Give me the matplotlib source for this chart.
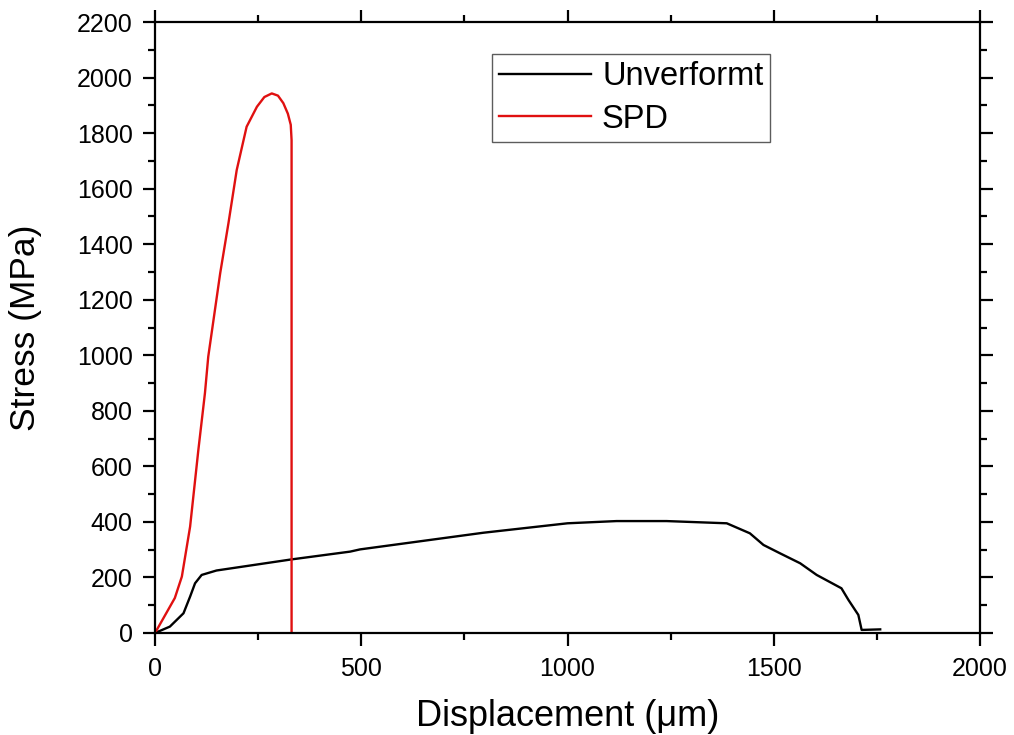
import numpy as np
import matplotlib.pyplot as plt
from matplotlib.ticker import MultipleLocator

plt.rcParams['font.family'] = ['Liberation Sans', 'DejaVu Sans']

# Unverformt (undeformed) curve
disp_unv = [0, 36, 69, 85, 97, 113, 149, 331, 473, 497, 796, 1000, 1119, 1240,
            1386, 1442, 1475, 1515, 1564, 1604, 1664, 1681, 1705, 1713, 1758]
stress_unv = [0, 23, 71, 131, 179, 209, 225, 265, 293, 301, 361, 395, 403, 403,
              395, 359, 317, 287, 251, 209, 161, 119, 65, 11, 13]

# SPD curve
disp_spd = [0, 48, 65, 85, 105, 121, 129, 158, 178, 198, 222, 247, 265, 283,
            298, 311, 322, 329, 331, 331]
stress_spd = [0, 126, 203, 383, 659, 864, 995, 1296, 1476, 1667, 1823, 1895,
              1930, 1943, 1935, 1908, 1870, 1830, 1775, 0]

fig = plt.figure(figsize=(10.14, 7.35), dpi=100)
ax = fig.add_axes([0.1529, 0.1388, 0.8136, 0.8312])

ax.plot(disp_unv, stress_unv, color='black', lw=1.7, label='Unverformt')
ax.plot(disp_spd, stress_spd, color='#e01010', lw=1.7, label='SPD')

ax.set_xlim(0, 2000)
ax.set_ylim(0, 2200)
ax.xaxis.set_major_locator(MultipleLocator(500))
ax.xaxis.set_minor_locator(MultipleLocator(250))
ax.yaxis.set_major_locator(MultipleLocator(200))
ax.yaxis.set_minor_locator(MultipleLocator(100))

for s in ax.spines.values():
    s.set_linewidth(1.6)
ax.tick_params(which='both', direction='out', top=True, right=True, width=1.6,
               labelsize=18)
ax.tick_params(which='major', length=9)
ax.tick_params(which='minor', length=5)
ax.tick_params(axis='x', which='major', pad=8)
ax.tick_params(axis='y', which='major', pad=7)

ax.set_xlabel('Displacement (\u03bcm)', fontsize=26, labelpad=13)
ax.set_ylabel('Stress (MPa)', fontsize=25.5, labelpad=25)

leg = ax.legend(loc='upper left', bbox_to_anchor=(0.4085, 0.9476), fontsize=23.5,
                frameon=True, fancybox=False, handlelength=2.8, borderpad=0.22,
                labelspacing=0.35, handletextpad=0.35, borderaxespad=0)
leg.get_frame().set_edgecolor('#333333')
leg.get_frame().set_linewidth(1.0)

fig.savefig('out.png', dpi=100)
